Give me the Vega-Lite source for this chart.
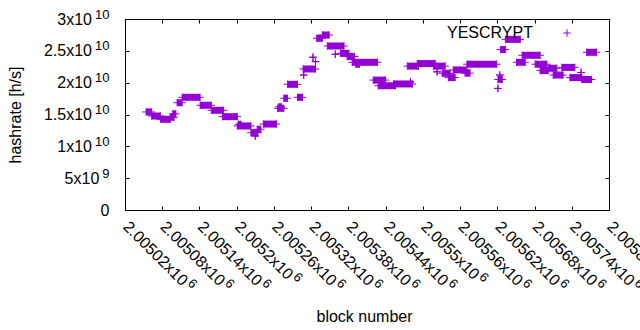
{
  "$schema": "https://vega.github.io/schema/vega-lite/v6.json",
  "autosize": {"type": "none"},
  "padding": {"left": 125, "top": 19, "right": 31, "bottom": 120},
  "width": 484,
  "height": 191,
  "background": "white",
  "config": {
    "view": {"stroke": "black", "strokeWidth": 1},
    "font": "Liberation Sans",
    "axis": {"labelFont": "Liberation Sans", "titleFont": "Liberation Sans", "labelColor": "black", "titleColor": "black", "domainColor": "black", "tickColor": "black", "grid": false, "labelFontSize": 16, "titleFontSize": 16, "titleFontWeight": "normal"}
  },
  "data": {"values": [
    {"s": 2005054, "e": 2005063, "v": 1.54e10},
    {"s": 2005063, "e": 2005077, "v": 1.476e10},
    {"s": 2005077, "e": 2005093, "v": 1.425e10},
    {"s": 2005093, "e": 2005099, "v": 1.456e10},
    {"s": 2005097, "e": 2005102, "v": 1.51e10},
    {"s": 2005104, "e": 2005112, "v": 1.685e10},
    {"s": 2005112, "e": 2005141, "v": 1.77e10},
    {"s": 2005141, "e": 2005159, "v": 1.645e10},
    {"s": 2005159, "e": 2005179, "v": 1.566e10},
    {"s": 2005177, "e": 2005201, "v": 1.466e10},
    {"s": 2005201, "e": 2005223, "v": 1.32e10},
    {"s": 2005203, "e": 2005207, "v": 1.345e10},
    {"s": 2005223, "e": 2005234, "v": 1.214e10},
    {"s": 2005230, "e": 2005230, "v": 1.162e10},
    {"s": 2005233, "e": 2005239, "v": 1.268e10},
    {"s": 2005243, "e": 2005264, "v": 1.35e10},
    {"s": 2005266, "e": 2005276, "v": 1.597e10},
    {"s": 2005268, "e": 2005272, "v": 1.62e10},
    {"s": 2005276, "e": 2005282, "v": 1.755e10},
    {"s": 2005282, "e": 2005298, "v": 1.974e10},
    {"s": 2005298, "e": 2005306, "v": 1.77e10},
    {"s": 2005307, "e": 2005327, "v": 2.215e10},
    {"s": 2005308, "e": 2005308, "v": 2.12e10},
    {"s": 2005323, "e": 2005323, "v": 2.4e10},
    {"s": 2005327, "e": 2005327, "v": 2.33e10},
    {"s": 2005329, "e": 2005338, "v": 2.697e10},
    {"s": 2005338, "e": 2005349, "v": 2.749e10},
    {"s": 2005346, "e": 2005373, "v": 2.576e10},
    {"s": 2005359, "e": 2005359, "v": 2.446e10},
    {"s": 2005367, "e": 2005381, "v": 2.46e10},
    {"s": 2005378, "e": 2005390, "v": 2.41e10},
    {"s": 2005386, "e": 2005427, "v": 2.32e10},
    {"s": 2005392, "e": 2005398, "v": 2.29e10},
    {"s": 2005420, "e": 2005440, "v": 2.04e10},
    {"s": 2005428, "e": 2005456, "v": 1.952e10},
    {"s": 2005453, "e": 2005483, "v": 1.98e10},
    {"s": 2005480, "e": 2005480, "v": 2.01e10},
    {"s": 2005475, "e": 2005493, "v": 2.26e10},
    {"s": 2005491, "e": 2005520, "v": 2.3e10},
    {"s": 2005517, "e": 2005536, "v": 2.26e10},
    {"s": 2005523, "e": 2005523, "v": 2.17e10},
    {"s": 2005531, "e": 2005544, "v": 2.147e10},
    {"s": 2005541, "e": 2005552, "v": 2.08e10},
    {"s": 2005549, "e": 2005571, "v": 2.2e10},
    {"s": 2005568, "e": 2005576, "v": 2.15e10},
    {"s": 2005571, "e": 2005619, "v": 2.29e10},
    {"s": 2005621, "e": 2005621, "v": 1.91e10},
    {"s": 2005621, "e": 2005628, "v": 2.05e10},
    {"s": 2005624, "e": 2005624, "v": 2.12e10},
    {"s": 2005625, "e": 2005633, "v": 2.52e10},
    {"s": 2005633, "e": 2005657, "v": 2.68e10},
    {"s": 2005651, "e": 2005665, "v": 2.32e10},
    {"s": 2005660, "e": 2005689, "v": 2.43e10},
    {"s": 2005681, "e": 2005700, "v": 2.29e10},
    {"s": 2005689, "e": 2005702, "v": 2.19e10},
    {"s": 2005702, "e": 2005716, "v": 2.226e10},
    {"s": 2005710, "e": 2005726, "v": 2.12e10},
    {"s": 2005724, "e": 2005745, "v": 2.24e10},
    {"s": 2005737, "e": 2005756, "v": 2.08e10},
    {"s": 2005755, "e": 2005755, "v": 2.16e10},
    {"s": 2005756, "e": 2005772, "v": 2.05e10},
    {"s": 2005764, "e": 2005780, "v": 2.477e10}
  ]},
  "layer": [
    {
      "mark": {"type": "rule", "strokeWidth": 7, "strokeCap": "butt", "color": "#9400d3"},
      "encoding": {
        "x": {"field": "s", "type": "quantitative",
          "scale": {"domain": [2005020, 2005800], "nice": false, "zero": false},
          "axis": {"orient": "bottom", "title": "block number",
            "values": [2005020, 2005080, 2005140, 2005200, 2005260, 2005320, 2005380, 2005440, 2005500, 2005560, 2005620, 2005680, 2005740, 2005800],
            "labelExpr": "format(datum.value / 1000000, '.5~f') + 'x10'",
            "labelAngle": 45, "labelAlign": "left", "labelBaseline": "top",
            "labelPadding": 12, "labelOffset": 6, "tickSize": -4, "labelOverlap": false, "labelBound": false, "labelFlush": false,
            "titleX": 239, "titleY": 111, "titleAlign": "center", "titleBaseline": "alphabetic", "titleAnchor": null}},
        "x2": {"field": "e"},
        "y": {"field": "v", "type": "quantitative",
          "scale": {"domain": [0, 30000000000], "nice": false},
          "axis": {"orient": "left", "title": "hashrate [h/s]",
            "values": [0, 5000000000, 10000000000, 15000000000, 20000000000, 25000000000, 30000000000],
            "labelExpr": "datum.value >= 10000000000 ? format(datum.value / 10000000000, '~g') + 'x10' : (datum.value > 0 ? format(datum.value / 1000000000, '~g') + 'x10' : '0')",
            "labelPadding": {"condition": [{"test": "datum.value >= 10000000000", "value": 37.5}, {"test": "datum.value > 0", "value": 30.2}], "value": 20},
            "tickSize": -4,
            "titleX": -110, "titleY": 95.5, "titleAngle": -90, "titleAlign": "center", "titleBaseline": "middle", "titleAnchor": null}}
      }
    },
    {
      "mark": {"type": "point", "shape": "M-1,0H1M0,-1V1", "filled": false, "size": 56, "strokeWidth": 1, "opacity": 1},
      "encoding": {
        "x": {"field": "s", "type": "quantitative",
          "axis": {"orient": "top", "title": null, "labels": false, "domain": false, "tickSize": -4,
            "values": [2005020, 2005080, 2005140, 2005200, 2005260, 2005320, 2005380, 2005440, 2005500, 2005560, 2005620, 2005680, 2005740, 2005800]}},
        "y": {"field": "v", "type": "quantitative",
          "axis": {"orient": "right", "title": null, "labels": false, "domain": false, "tickSize": -4,
            "values": [0, 5000000000, 10000000000, 15000000000, 20000000000, 25000000000, 30000000000]}},
        "color": {"datum": "YESCRYPT", "type": "nominal", "scale": {"range": ["#9400d3"]},
          "legend": {"orient": "none", "legendX": 322, "legendY": 9, "title": "YESCRYPT", "titleOrient": "left",
            "titleFontSize": 16, "titleFontWeight": "normal", "titleColor": "black", "titleFont": "Liberation Sans",
            "titlePadding": 29, "labelExpr": "''", "symbolType": "M-1,0H1M0,-1V1", "symbolSize": 56, "symbolStrokeWidth": 1, "symbolStrokeColor": "#9400d3", "symbolFillColor": "transparent"}}
      }
    },
    {
      "mark": {"type": "point", "shape": "M-1,0H1M0,-1V1", "filled": false, "size": 56, "strokeWidth": 1, "opacity": 1, "color": "#9400d3"},
      "encoding": {
        "x": {"field": "e", "type": "quantitative",
          "axis": {"orient": "bottom", "title": null, "ticks": false, "domain": false,
            "values": [2005020, 2005080, 2005140, 2005200, 2005260, 2005320, 2005380, 2005440, 2005500, 2005560, 2005620, 2005680, 2005740, 2005800],
            "labelExpr": "'6'", "labelFontSize": 13,
            "labelAngle": 45, "labelAlign": "left", "labelBaseline": "top",
            "labelOffset": {"condition": {"test": "datum.value % 100 == 0", "value": 62.3}, "value": 68.6},
            "labelPadding": {"condition": {"test": "datum.value % 100 == 0", "value": 60.1}, "value": 66.4},
            "labelOverlap": false, "labelBound": false, "labelFlush": false}},
        "y": {"field": "v", "type": "quantitative",
          "axis": {"orient": "left", "title": null, "ticks": false, "domain": false,
            "values": [0, 5000000000, 10000000000, 15000000000, 20000000000, 25000000000, 30000000000],
            "labelExpr": "datum.value >= 10000000000 ? '10' : (datum.value > 0 ? '9' : '')",
            "labelFontSize": 13, "labelPadding": 16, "labelOffset": -5, "labelAlign": "right"}}
      }
    }
  ],
  "resolve": {"axis": {"x": "independent", "y": "independent"}}
}
